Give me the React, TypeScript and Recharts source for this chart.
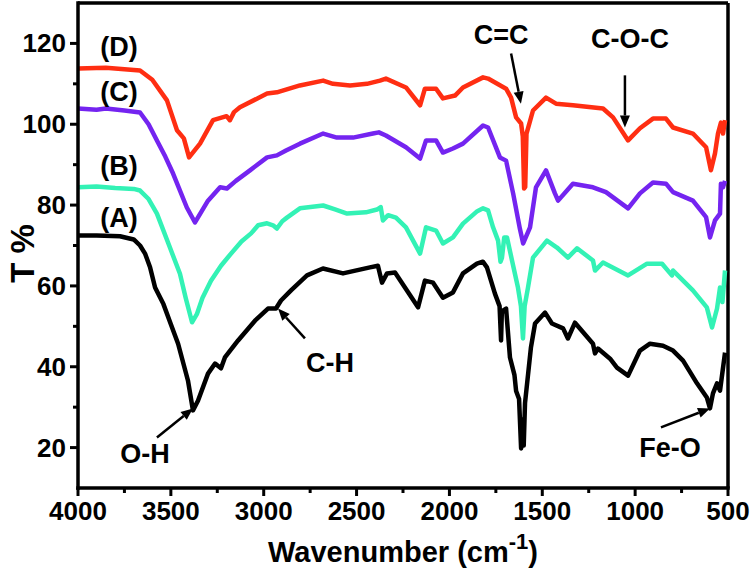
import React from 'react';
import { LineChart, Line, XAxis, YAxis, ReferenceLine, ReferenceDot } from 'recharts';

const FONT = '"Liberation Sans", Arial, Helvetica, sans-serif';

// Wavenumber tick values (cm-1)
const xTicks = [4000, 3750, 3500, 3250, 3000, 2750, 2500, 2250, 2000, 1750, 1500, 1250, 1000, 750, 500];
const xLabelTicks = [4000, 3500, 3000, 2500, 2000, 1500, 1000, 500];
const yTicks = [20, 30, 40, 50, 60, 70, 80, 90, 100, 110, 120];
const yLabelTicks = [20, 40, 60, 80, 100, 120];

// Series (A) - black
const aWave = [4000, 3900, 3774, 3700, 3666, 3639, 3612, 3585, 3540, 3500, 3461, 3408, 3381, 3354, 3300, 3262, 3230, 3209, 3138, 3047, 2977, 2934, 2907, 2853, 2767, 2681, 2573, 2428, 2385, 2363, 2336, 2293, 2169, 2132, 2088, 2035, 1981, 1927, 1852, 1820, 1798, 1755, 1730, 1722, 1718, 1712, 1695, 1674, 1650, 1641, 1625, 1614, 1605, 1600, 1593, 1561, 1539, 1485, 1448, 1388, 1362, 1324, 1227, 1216, 1200, 1135, 1098, 1038, 974, 920, 850, 796, 742, 667, 614, 597, 581, 559, 543, 516];
const aT = [72.5, 72.5, 72.3, 71.5, 70, 68, 64.6, 59.6, 55.5, 50.5, 45.7, 36.6, 29.2, 31.6, 38.3, 40.8, 39.6, 42.3, 46.5, 51.4, 54.4, 54.4, 56.4, 58.9, 62.6, 64.3, 63.1, 64.6, 65, 60.8, 63.1, 63.3, 54.7, 61.3, 60.8, 57.1, 58.4, 63.1, 65.5, 66, 64.6, 58.1, 55, 46.5, 53.2, 53.9, 54.4, 42.3, 38, 34, 32, 19.8, 27, 20.5, 31, 44.8, 50.7, 53.4, 50.7, 49.5, 47, 50.9, 45.7, 43.3, 44.5, 42, 39.8, 37.8, 44, 45.7, 45.2, 44, 41.5, 35.9, 32.4, 29.7, 33.4, 35.9, 34.1, 43.5];

// Series (B) - teal
const bWave = [4000, 3900, 3800, 3700, 3666, 3620, 3575, 3505, 3451, 3420, 3386, 3360, 3330, 3284, 3230, 3176, 3120, 3068, 3030, 2982, 2950, 2929, 2900, 2875, 2805, 2680, 2620, 2551, 2450, 2390, 2370, 2358, 2330, 2288, 2234, 2158, 2126, 2072, 2035, 1981, 1927, 1850, 1819, 1792, 1765, 1738, 1725, 1717, 1705, 1690, 1663, 1631, 1615, 1604, 1595, 1577, 1550, 1475, 1421, 1362, 1313, 1227, 1216, 1173, 1038, 936, 855, 802, 796, 689, 614, 586, 559, 543, 530, 516];
const bT = [84.4, 84.6, 84.2, 84, 83.6, 81.5, 77.9, 69.5, 63, 57, 51, 53, 57, 61.3, 65, 68, 71, 73, 75, 75.5, 75, 74.2, 76, 76.9, 79.2, 79.9, 79, 77.9, 78.2, 78.9, 79.5, 76.2, 77.5, 76.9, 74.5, 68, 74.5, 73.7, 70.5, 72, 75.4, 78.5, 79.2, 78.7, 74.5, 71.2, 66, 67, 72, 72, 66.3, 59.6, 55, 47, 55, 59.6, 67, 71.2, 69.5, 67, 69.3, 66.3, 63.8, 65.8, 62.6, 65.5, 65.5, 62.6, 63.8, 58.9, 54.7, 49.7, 54.4, 59.6, 56, 63.8];

// Series (C) - purple
const cWave = [4000, 3900, 3850, 3750, 3666, 3620, 3575, 3530, 3488, 3414, 3370, 3300, 3235, 3198, 3150, 3074, 2982, 2929, 2880, 2805, 2680, 2606, 2519, 2412, 2380, 2342, 2234, 2158, 2126, 2072, 2035, 1981, 1927, 1819, 1792, 1728, 1695, 1657, 1620, 1603, 1566, 1534, 1480, 1432, 1415, 1335, 1227, 1157, 1038, 974, 904, 834, 796, 689, 618, 597, 570, 543, 538, 527, 516];
const cT = [103.9, 103.6, 103.9, 103.4, 102.9, 100, 96, 92, 87.8, 79.4, 75.7, 81.1, 84.4, 84.1, 86, 88.6, 91.8, 92.3, 93.5, 95.2, 97.7, 96.7, 96.7, 97.7, 98, 97.2, 94.3, 91.5, 96, 96, 93, 94, 95.2, 99.7, 99.2, 91.8, 91, 82.9, 74, 70.5, 74.5, 84.4, 88.6, 82.9, 81.1, 85.3, 84.4, 83.2, 79.2, 82.9, 85.6, 85.3, 83.2, 81.1, 77, 72, 76.2, 77.9, 85.3, 84.4, 86];

// Series (D) - red
const dWave = [4000, 3850, 3750, 3666, 3600, 3521, 3467, 3430, 3402, 3343, 3273, 3200, 3182, 3160, 3128, 2982, 2929, 2805, 2680, 2627, 2535, 2444, 2374, 2342, 2234, 2158, 2132, 2072, 2035, 1970, 1927, 1819, 1792, 1695, 1668, 1641, 1614, 1605, 1598, 1592, 1585, 1550, 1480, 1426, 1335, 1173, 1119, 1038, 974, 904, 834, 796, 689, 618, 592, 570, 554, 538, 527, 516];
const dT = [113.8, 114, 113.6, 113.3, 111, 105.9, 98.5, 96.5, 91.8, 95.2, 101, 102, 101, 103, 104.2, 107.6, 107.9, 109.6, 110.8, 110, 109.6, 110, 110.8, 111.3, 109.1, 104.7, 108.8, 108.8, 106.4, 107.1, 109.1, 111.6, 111.3, 108.8, 106.6, 101.7, 100.2, 97, 84.1, 84.5, 97.7, 103.4, 106.6, 105.1, 104.7, 103.9, 101.7, 96, 99, 101.4, 101.4, 99.2, 97.7, 94.3, 88.6, 92.8, 97.7, 100.4, 97.7, 101];

const zip = (w: number[], t: number[]) => w.map((x, i) => ({ x, y: t[i] }));
const seriesA = zip(aWave, aT);
const seriesB = zip(bWave, bT);
const seriesC = zip(cWave, cT);
const seriesD = zip(dWave, dT);

// Annotation texts (wavenumber, T%)
const labelTexts = ['(D)', '(C)', '(B)', '(A)', 'O-H', 'C-H', 'C=C', 'C-O-C', 'Fe-O'];
const labelWave = [3779, 3779, 3779, 3779, 3639, 2643, 1722, 1028, 812];
const labelT = [119, 108.1, 89.6, 76.9, 18.5, 41, 122, 121, 20];

// Arrows: start (wave, T) -> end (wave, T)
const arrowFromWave = [3575, 2778, 1668, 1055, 861];
const arrowFromT = [22.5, 47, 117.5, 112.1, 25];
const arrowToWave = [3381, 2923, 1615, 1055, 597];
const arrowToT = [29.7, 54.4, 105.1, 99.2, 29.7];

const XTick = (props: any) => {
  const { x, y, payload } = props;
  const major = xLabelTicks.includes(payload.value);
  return (
    <g>
      <line x1={x} x2={x} y1={y} y2={y + (major ? 8 : 5)} stroke="#000" strokeWidth={3} />
      {major && (
        <text x={x} y={y + 23} textAnchor="middle" dominantBaseline="central" fontFamily={FONT} fontWeight="bold" fontSize={26} fill="#000">
          {payload.value}
        </text>
      )}
    </g>
  );
};

const YTick = (props: any) => {
  const { x, y, payload } = props;
  const major = yLabelTicks.includes(payload.value);
  return (
    <g>
      <line x1={x} x2={x - (major ? 8 : 5)} y1={y} y2={y} stroke="#000" strokeWidth={3} />
      {major && (
        <text x={x - 12} y={y} textAnchor="end" dominantBaseline="central" fontFamily={FONT} fontWeight="bold" fontSize={26} fill="#000">
          {payload.value}
        </text>
      )}
    </g>
  );
};

const ArrowShape = (p: any) => {
  const { x1, y1, x2, y2 } = p;
  const dx = x2 - x1;
  const dy = y2 - y1;
  const len = Math.hypot(dx, dy) || 1;
  const ux = dx / len;
  const uy = dy / len;
  const hl = 12;
  const hw = 5;
  const bx = x2 - ux * hl;
  const by = y2 - uy * hl;
  return (
    <g>
      <line x1={x1} y1={y1} x2={bx} y2={by} stroke="#000" strokeWidth={2.5} />
      <polygon points={`${x2},${y2} ${bx - uy * hw},${by + ux * hw} ${bx + uy * hw},${by - ux * hw}`} fill="#000" />
    </g>
  );
};

const makeTextShape = (text: string) => (p: any) => (
  <text x={p.cx} y={p.cy} textAnchor="middle" dominantBaseline="central" fontFamily={FONT} fontWeight="bold" fontSize={27} fill="#000">
    {text}
  </text>
);

const XTitle = (props: any) => {
  const vb = props.viewBox;
  const cx = vb.x + vb.width / 2;
  return (
    <text x={cx} y={vb.y + 74} textAnchor="middle" fontFamily={FONT} fontWeight="bold" fontSize={29} fill="#000">
      Wavenumber (cm
      <tspan fontSize={22} dy={-13}>-1</tspan>
      <tspan dy={13}>)</tspan>
    </text>
  );
};

const YTitle = (props: any) => {
  const vb = props.viewBox;
  const cx = vb.x + 14;
  const cy = vb.y + vb.height / 2 + 8;
  return (
    <text x={cx} y={cy} transform={`rotate(-90 ${cx} ${cy})`} textAnchor="middle" dominantBaseline="central" fontFamily={FONT} fontWeight="bold" fontSize={33} fill="#000">
      T %
    </text>
  );
};

export default function App() {
  return (
    <div style={{ position: 'absolute', left: 0, top: 0, background: '#fff' }}>
      <LineChart width={753} height={573} margin={{ top: 3, right: 25, left: 8, bottom: 20 }}>
        <XAxis
          type="number"
          dataKey="x"
          domain={[500, 4000]}
          reversed
          ticks={xTicks}
          interval={0}
          allowDataOverflow
          height={65}
          tickSize={0}
          tickMargin={0}
          tickLine={false}
          tick={<XTick />}
          axisLine={{ stroke: '#000', strokeWidth: 3.5, strokeLinecap: 'square' }}
          label={<XTitle />}
        />
        <YAxis
          type="number"
          dataKey="y"
          domain={[10, 130]}
          ticks={yTicks}
          interval={0}
          allowDataOverflow
          width={70}
          tickSize={0}
          tickMargin={0}
          tickLine={false}
          tick={<YTick />}
          axisLine={{ stroke: '#000', strokeWidth: 3.5, strokeLinecap: 'square' }}
          label={<YTitle />}
        />
        <ReferenceLine y={130} stroke="#000" strokeWidth={3.5} />
        <ReferenceLine x={500} stroke="#000" strokeWidth={3.5} />
        <Line data={seriesA} dataKey="y" type="linear" stroke="#000000" strokeWidth={4.5} dot={false} isAnimationActive={false} strokeLinejoin="round" />
        <Line data={seriesB} dataKey="y" type="linear" stroke="#33F2B5" strokeWidth={4.5} dot={false} isAnimationActive={false} strokeLinejoin="round" />
        <Line data={seriesC} dataKey="y" type="linear" stroke="#7424F0" strokeWidth={4.5} dot={false} isAnimationActive={false} strokeLinejoin="round" />
        <Line data={seriesD} dataKey="y" type="linear" stroke="#FF2E12" strokeWidth={4.5} dot={false} isAnimationActive={false} strokeLinejoin="round" />
        {arrowFromWave.map((w, i) => (
          <ReferenceLine
            key={'ar' + i}
            segment={[{ x: w, y: arrowFromT[i] }, { x: arrowToWave[i], y: arrowToT[i] }]}
            shape={ArrowShape}
            ifOverflow="visible"
          />
        ))}
        {labelTexts.map((t, i) => (
          <ReferenceDot key={'lb' + i} x={labelWave[i]} y={labelT[i]} r={1} ifOverflow="visible" shape={makeTextShape(t)} />
        ))}
      </LineChart>
    </div>
  );
}
